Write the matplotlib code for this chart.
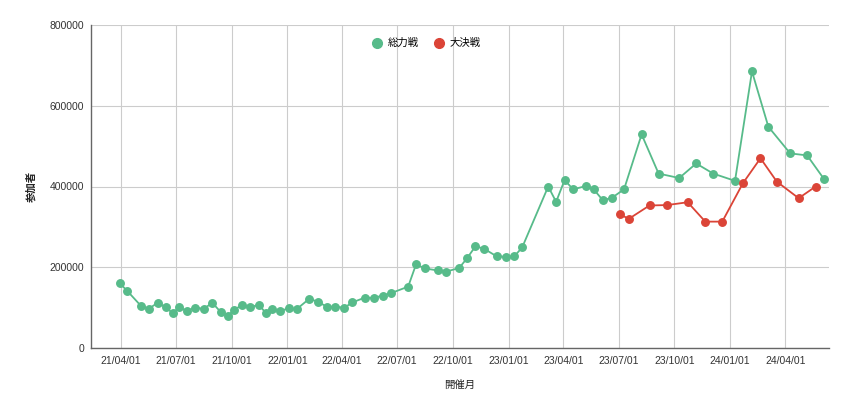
import matplotlib
matplotlib.use("Agg")
import matplotlib.pyplot as plt
import pandas as pd

plt.rcParams['font.family'] = ['Liberation Sans', 'Noto Sans CJK JP', 'DejaVu Sans']

# ---- data ----
green_label = "総力戦"
red_label = "大決戦"

green_dates = [
    "2021-03-30", "2021-04-12", "2021-05-04", "2021-05-17", "2021-06-01", "2021-06-14",
    "2021-06-26", "2021-07-06", "2021-07-19", "2021-08-02", "2021-08-16", "2021-08-30",
    "2021-09-13", "2021-09-25", "2021-10-04", "2021-10-18", "2021-10-31", "2021-11-15",
    "2021-11-26", "2021-12-06", "2021-12-20", "2022-01-03", "2022-01-16", "2022-02-06",
    "2022-02-21", "2022-03-07", "2022-03-21", "2022-04-05", "2022-04-18", "2022-05-09",
    "2022-05-23", "2022-06-07", "2022-06-21", "2022-07-19", "2022-08-01", "2022-08-16",
    "2022-09-06", "2022-09-19", "2022-10-11", "2022-10-24", "2022-11-07", "2022-11-21",
    "2022-12-12", "2022-12-27", "2023-01-10", "2023-01-23", "2023-03-07", "2023-03-20",
    "2023-04-03", "2023-04-17", "2023-05-08", "2023-05-21", "2023-06-05", "2023-06-20",
    "2023-07-10", "2023-08-08", "2023-09-05", "2023-10-09", "2023-11-06", "2023-12-04",
    "2024-01-09", "2024-02-06", "2024-03-04", "2024-04-09", "2024-05-07", "2024-06-04",
]
green_values = [
    161000, 141000, 105000, 97000, 112000, 101000,
    86000, 101000, 92000, 100000, 97000, 112000,
    89000, 79000, 94000, 106000, 101000, 107000,
    87000, 96000, 92000, 98000, 96000, 122000,
    114000, 102000, 102000, 100000, 113000, 125000,
    124000, 130000, 136000, 152000, 207000, 197000,
    192000, 189000, 198000, 222000, 252000, 246000,
    227000, 226000, 227000, 249000, 400000, 362000,
    416000, 393000, 401000, 393000, 366000, 372000,
    393000, 529000, 432000, 421000, 457000, 432000,
    414000, 685000, 548000, 482000, 477000, 418000,
]

red_dates = [
    "2023-07-03", "2023-07-18", "2023-08-21", "2023-09-19", "2023-10-23", "2023-11-21",
    "2023-12-19", "2024-01-22", "2024-02-20", "2024-03-18", "2024-04-23", "2024-05-21",
]
red_values = [
    331000, 320000, 353000, 354000, 361000, 313000,
    313000, 408000, 470000, 412000, 371000, 400000,
]

x_ticks = ["2021-04-01", "2021-07-01", "2021-10-01", "2022-01-01", "2022-04-01",
           "2022-07-01", "2022-10-01", "2023-01-01", "2023-04-01", "2023-07-01",
           "2023-10-01", "2024-01-01", "2024-04-01"]
y_ticks = [0, 200000, 400000, 600000, 800000]

x_label = "開催月"
y_label = "参加者"

# ---- plot ----
GREEN = "#57BB8A"
RED = "#DB4437"

fig = plt.figure(figsize=(8.5, 4.09), dpi=100)
ax = fig.add_axes([91/850, 1 - 348/409, (829 - 91)/850, (348 - 25)/409])

gd = pd.to_datetime(green_dates)
rd = pd.to_datetime(red_dates)

ax.plot(gd, green_values, color=GREEN, lw=1.3, marker='o', ms=5.4,
        label=green_label, zorder=3)
ax.plot(rd, red_values, color=RED, lw=1.3, marker='o', ms=5.4,
        label=red_label, zorder=3)

ax.set_xlim(pd.Timestamp("2021-02-11"), pd.Timestamp("2024-06-12"))
ax.set_ylim(0, 800000)

xt = pd.to_datetime(x_ticks)
ax.set_xticks(xt)
ax.set_xticklabels([d.strftime("%y/%m/%d") for d in xt])
ax.set_yticks(y_ticks)
ax.set_yticklabels([str(v) for v in y_ticks])

ax.grid(True, color="#cccccc", lw=0.8, zorder=0)
ax.set_axisbelow(True)
for s in ["top", "right"]:
    ax.spines[s].set_visible(False)
for s in ["left", "bottom"]:
    ax.spines[s].set_color("#666666")
    ax.spines[s].set_linewidth(1.0)

ax.tick_params(axis='both', length=0, labelsize=7.5, colors="#333333")
ax.tick_params(axis='x', pad=6)
ax.tick_params(axis='y', pad=5)

ax.set_xlabel(x_label, fontsize=7.5, color="#222222", labelpad=10,
              family=['Noto Sans CJK JP', 'DejaVu Sans'])
ax.set_ylabel(y_label, fontsize=7.5, color="#222222", labelpad=9, fontweight='bold',
              family=['Noto Sans CJK JP', 'DejaVu Sans'])

leg = ax.legend(loc='center', bbox_to_anchor=(0.455, 0.944), ncol=2, frameon=False,
                handlelength=0.8, handletextpad=0.6, columnspacing=1.5,
                prop={'family': ['Noto Sans CJK JP', 'DejaVu Sans'], 'size': 7.5})
for h in leg.legend_handles:
    h.set_linestyle('none')
    h.set_markersize(7)

fig.savefig("out.png", dpi=100)
